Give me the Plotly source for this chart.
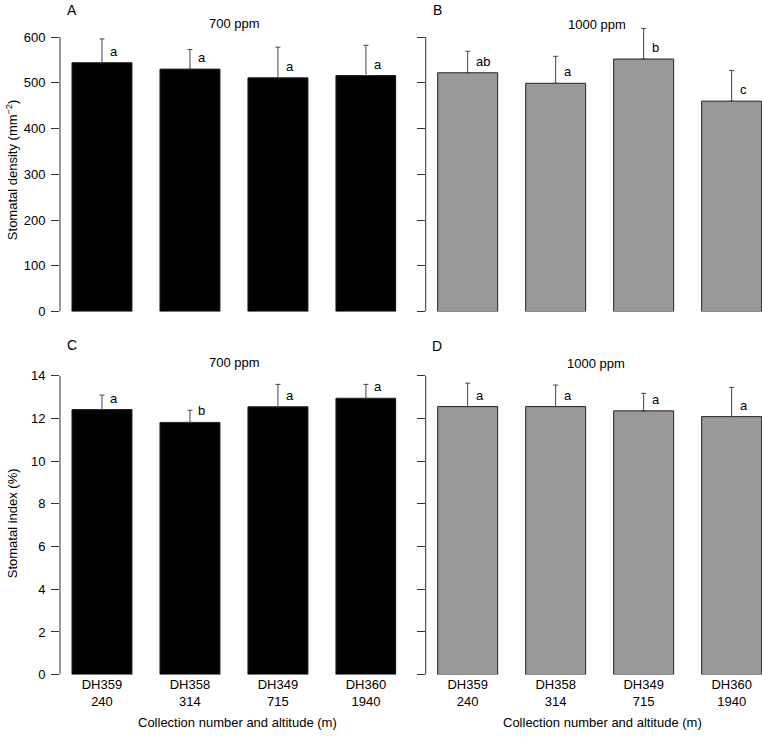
import plotly.graph_objects as go

W, H = 762, 739

categories = ["DH359<br>240", "DH358<br>314", "DH349<br>715", "DH360<br>1940"]

# Panel A: stomatal density, 700 ppm
density_700 = [544, 530, 511, 516]
density_700_err = [52, 43, 67, 66]
density_700_letters = ["a", "a", "a", "a"]

# Panel B: stomatal density, 1000 ppm
density_1000 = [522, 499, 552, 460]
density_1000_err = [47, 59, 67, 67]
density_1000_letters = ["ab", "a", "b", "c"]

# Panel C: stomatal index, 700 ppm
index_700 = [12.42, 11.82, 12.55, 12.95]
index_700_err = [0.68, 0.57, 1.05, 0.65]
index_700_letters = ["a", "b", "a", "a"]

# Panel D: stomatal index, 1000 ppm
index_1000 = [12.56, 12.56, 12.36, 12.09]
index_1000_err = [1.10, 1.01, 0.82, 1.37]
index_1000_letters = ["a", "a", "a", "a"]

density_ticks = [0, 100, 200, 300, 400, 500, 600]
index_ticks = [0, 2, 4, 6, 8, 10, 12, 14]

FONT = "Liberation Sans, Arial, Helvetica, sans-serif"
AX = "#333333"


def px_x(p):
    return p / W


def px_y(p):
    return 1 - p / H


fig = go.Figure()

# domains in pixels
xdom = {"L": (60, 396.3), "R": (425.7, 762)}
ydom = {"T": (19, 315), "B": (358.4, 682)}

panels = [
    ("A", 1, "L", "T", density_700, density_700_err, density_700_letters, "#000000", [0, 640], density_ticks, True, False),
    ("B", 2, "R", "T", density_1000, density_1000_err, density_1000_letters, "#999999", [0, 640], density_ticks, False, False),
    ("C", 3, "L", "B", index_700, index_700_err, index_700_letters, "#000000", [0, 15], index_ticks, True, True),
    ("D", 4, "R", "B", index_1000, index_1000_err, index_1000_letters, "#999999", [0, 15], index_ticks, False, True),
]

annotations = []
shapes = []

for name, i, col, row, vals, err, letters, color, yr, ticks, ylab, xlab in panels:
    xa = "x" if i == 1 else f"x{i}"
    ya = "y" if i == 1 else f"y{i}"
    fig.add_trace(go.Bar(
        x=categories, y=vals, xaxis=xa, yaxis=ya,
        width=0.682,
        marker=dict(color=color, line=dict(color="#222222", width=1)),
        error_y=dict(type="data", array=err, arrayminus=[0] * len(err), symmetric=False,
                     color="#444444", thickness=1, width=2.5),
        showlegend=False, hoverinfo="skip",
    ))
    xd = xdom[col]
    yd = ydom[row]
    layout_x = dict(
        domain=[px_x(xd[0]), px_x(xd[1])],
        anchor=ya, type="category", range=[-0.477, 3.345],
        showgrid=False, zeroline=False, showline=False, ticks="",
        showticklabels=xlab,
        tickfont=dict(family=FONT, size=13, color="#000000"),
    )
    layout_y = dict(
        domain=[px_y(yd[1]), px_y(yd[0])],
        anchor=xa, range=yr, tickvals=ticks,
        showgrid=False, zeroline=False, showline=False,
        ticks="outside", ticklen=8, tickwidth=1, tickcolor=AX,
        showticklabels=ylab,
        tickfont=dict(family=FONT, size=13, color="#000000"),
        ticklabelstandoff=3,
    )
    fig.update_layout(**{("xaxis" if i == 1 else f"xaxis{i}"): layout_x,
                         ("yaxis" if i == 1 else f"yaxis{i}"): layout_y})
    # R-style axis line spanning first to last tick
    shapes.append(dict(type="line", xref=f"{xa} domain", yref=ya,
                       x0=0, x1=0, y0=ticks[0], y1=ticks[-1],
                       line=dict(color=AX, width=1)))
    # significance letters
    for c, v, e, t in zip(categories, vals, err, letters):
        annotations.append(dict(x=c, y=v, xref=xa, yref=ya, text=t, showarrow=False,
                                xanchor="left", yanchor="middle", xshift=6, yshift=11.5,
                                font=dict(family=FONT, size=13, color="#000000")))


def txt(x, y, text, size=13, angle=0):
    annotations.append(dict(x=px_x(x), y=px_y(y), xref="paper", yref="paper", text=text,
                            showarrow=False, xanchor="center", yanchor="middle",
                            textangle=angle, font=dict(family=FONT, size=size, color="#000000")))


# panel letters
txt(72, 10, "A", 14)
txt(437, 10, "B", 14)
txt(71.5, 349, "C", 14)
txt(437, 349.5, "D", 14)
# panel titles
txt(234.7, 24, "700 ppm")
txt(596.5, 25, "1000 ppm")
txt(234.7, 366, "700 ppm")
txt(596, 367, "1000 ppm")
# axis titles
txt(237.5, 730, "Collection number and altitude (m)")
txt(602.8, 730, "Collection number and altitude (m)")
txt(12, 172, "Stomatal density (mm<sup>−2</sup>)", angle=-90)
txt(12, 529, "Stomatal index (%)", angle=-90)

fig.update_layout(
    width=W, height=H,
    margin=dict(l=0, r=0, t=0, b=0),
    paper_bgcolor="white", plot_bgcolor="white",
    font=dict(family=FONT, size=13, color="#000000"),
    annotations=annotations, shapes=shapes,
    bargap=0.3,
)

fig.write_html("out.html",
               config={"displayModeBar": False},
               post_script="document.body.style.margin='0';document.body.style.overflow='hidden';")
